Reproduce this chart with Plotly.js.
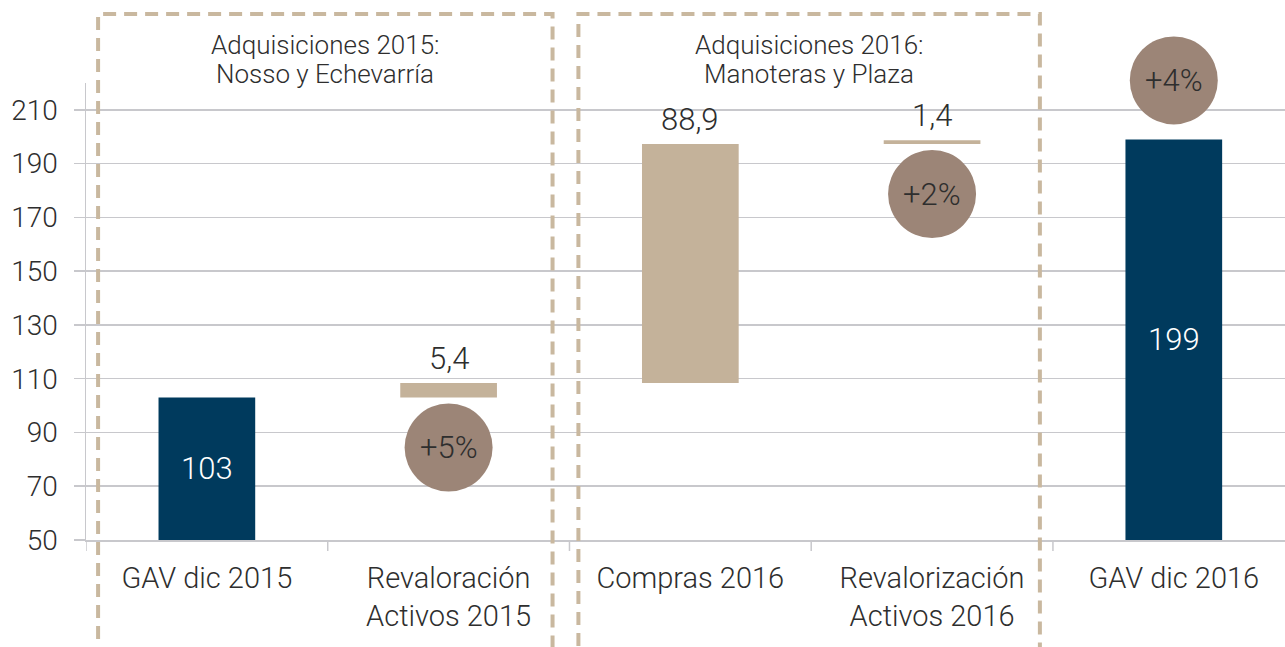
<!DOCTYPE html>
<html>
<head>
<meta charset="utf-8">
<script src="https://cdn.plot.ly/plotly-3.0.1.min.js"></script>
<style>html,body{margin:0;padding:0;background:#fff;}#chart{width:1285px;height:647px;}</style>
</head>
<body>
<div id="chart"></div>
<script>
const categories = ['GAV dic 2015', 'Revaloración<br>Activos 2015', 'Compras 2016', 'Revalorización<br>Activos 2016', 'GAV dic 2016'];
const values = [103, 5.4, 88.9, 1.4, 199];
const kinds = ['total', 'delta', 'delta', 'delta', 'total'];
const valueLabels = ['103', '5,4', '88,9', '1,4', '199'];
const pctCategories = [1, 3, 4];
const pctLabels = ['+5%', '+2%', '+4%'];
const groupTitles = [['Adquisiciones 2015:', 'Nosso y Echevarría'], ['Adquisiciones 2016:', 'Manoteras y Plaza']];
const yTicks = [50, 70, 90, 110, 130, 150, 170, 190, 210];
const yRange = [50, 220];

const NAVY = '#003A5D', TAN = '#C4B29A', CIRCLE = '#9C8577', DASH = '#C9B89F', GRID = '#C8C8CC', TXT = '#2E2E2E';
const FONT = 'Roboto, "Open Sans", sans-serif';
const toPaper = v => (v - yRange[0]) / (yRange[1] - yRange[0]);

// bases and lengths (totals drawn from the axis floor)
let run = 0;
const bases = [], lens = [], colors = [];
values.forEach((v, i) => {
  if (kinds[i] === 'total') { bases.push(yRange[0]); lens.push(v - yRange[0]); run = v; colors.push(NAVY); }
  else { bases.push(run); lens.push(v); run += v; colors.push(TAN); }
});
const xIdx = categories.map((_, i) => i);

const trace = {
  type: 'bar', x: xIdx, y: lens, base: bases,
  width: 0.4,
  marker: { color: colors, line: { width: 0 } },
  text: valueLabels.map((t, i) => kinds[i] === 'total' ? t : ''),
  textposition: 'inside', insidetextanchor: 'middle',
  insidetextfont: { family: FONT, size: 31, color: '#FFFFFF', weight: 300 },
  textangle: 0,
  cliponaxis: false, hoverinfo: 'none'
};

const annotations = [];
const shapes = [];
// delta labels above bar
values.forEach((v, i) => {
  if (kinds[i] === 'delta') {
    annotations.push({ x: i, y: bases[i] + lens[i], xref: 'x', yref: 'y', text: valueLabels[i], showarrow: false,
      yanchor: 'middle', yshift: 25, font: { family: FONT, size: 31, color: TXT, weight: 300 } });
  }
});
// percentage circles
pctCategories.forEach((c, k) => {
  let anchor, off;
  if (kinds[c] === 'delta') { anchor = bases[c]; off = -50; }
  else { anchor = bases[c] + lens[c]; off = 59; }
  shapes.push({ type: 'circle', xref: 'x', yref: 'paper', xsizemode: 'pixel', ysizemode: 'pixel',
    xanchor: c, yanchor: toPaper(anchor), x0: -44, x1: 44, y0: off - 44, y1: off + 44,
    fillcolor: CIRCLE, line: { width: 0 }, layer: 'above' });
  annotations.push({ x: c, y: toPaper(anchor), xref: 'x', yref: 'paper', text: pctLabels[k], showarrow: false,
    yanchor: 'middle', yshift: off, font: { family: FONT, size: 31, color: TXT, weight: 300 } });
});
// dashed group boxes
const groupSpans = [[-0.45, 1.43], [1.537, 3.446]];
groupSpans.forEach((s, g) => {
  shapes.push({ type: 'rect', xref: 'x', yref: 'paper', x0: s[0], x1: s[1], y0: -0.3, y1: 1.151,
    line: { color: DASH, width: 4, dash: '13px,8px' }, fillcolor: 'rgba(0,0,0,0)', layer: 'above' });
  groupTitles[g].forEach((line, j) => {
    annotations.push({ x: (s[0] + s[1]) / 2, y: 1.151, xref: 'x', yref: 'paper', yanchor: 'middle', yshift: -31 - 29 * j,
      text: line, showarrow: false, font: { family: FONT, size: 26, color: TXT, weight: 300 } });
  });
});

const layout = {
  width: 1285, height: 647,
  margin: { l: 86, r: 0, t: 83, b: 107 },
  paper_bgcolor: '#fff', plot_bgcolor: '#fff',
  showlegend: false,
  xaxis: {
    range: [-0.5, 4.46], tickmode: 'array', tickvals: xIdx, ticktext: categories,
    showgrid: false, zeroline: false, showline: true, linecolor: GRID, linewidth: 1.5,
    ticks: '', ticklabelstandoff: 12,
    tickfont: { family: FONT, size: 29, color: TXT, weight: 300 }, fixedrange: true
  },
  yaxis: {
    range: yRange, tickmode: 'array', tickvals: yTicks,
    showgrid: true, gridcolor: GRID, gridwidth: 1.5, zeroline: false,
    showline: true, linecolor: GRID, linewidth: 1.5,
    ticks: 'outside', ticklen: 11, tickcolor: GRID, tickwidth: 1.5,
    ticklabelstandoff: 10,
    tickfont: { family: FONT, size: 28, color: TXT, weight: 300 }, fixedrange: true
  },
  shapes: shapes,
  annotations: annotations
};
// x tick marks at category boundaries
[-0.5, 0.5, 1.5, 2.5, 3.5].forEach(b => {
  layout.shapes.push({ type: 'line', xref: 'x', yref: 'paper', x0: b, x1: b, y0: 0, y1: -0.024, line: { color: GRID, width: 1.5 }, layer: 'below' });
});

Plotly.newPlot('chart', [trace], layout, { displayModeBar: false, staticPlot: true });
</script>
</body>
</html>
